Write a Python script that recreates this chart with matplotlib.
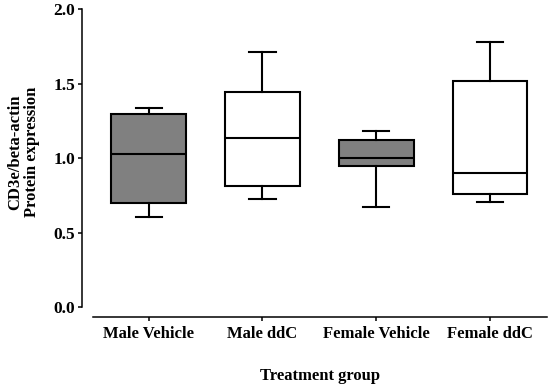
import matplotlib
matplotlib.use("Agg")
import matplotlib.pyplot as plt

plt.rcParams['font.family'] = ['Liberation Serif', 'DejaVu Serif']
plt.rcParams['font.weight'] = 'bold'

# Box statistics
groups = ["Male Vehicle", "Male ddC", "Female Vehicle", "Female ddC"]
whisker_low = [0.606, 0.727, 0.673, 0.705]
q1 = [0.700, 0.814, 0.949, 0.760]
medians = [1.030, 1.132, 1.002, 0.897]
q3 = [1.295, 1.443, 1.119, 1.517]
whisker_high = [1.333, 1.709, 1.181, 1.780]
fills = ["#808080", "white", "#808080", "white"]

yticks = [0.0, 0.5, 1.0, 1.5, 2.0]

stats = []
for i, name in enumerate(groups):
    stats.append({
        "label": name,
        "whislo": whisker_low[i],
        "q1": q1[i],
        "med": medians[i],
        "q3": q3[i],
        "whishi": whisker_high[i],
        "fliers": [],
    })

fig = plt.figure(figsize=(5.5, 3.87), dpi=100)
ax = fig.add_axes([0.169, 0.2067, 0.8255, 0.77])

lw = 1.5
bp = ax.bxp(stats, positions=range(len(groups)), widths=0.655, patch_artist=True,
            showfliers=False,
            boxprops=dict(linewidth=lw, edgecolor="black"),
            medianprops=dict(linewidth=lw, color="black"),
            whiskerprops=dict(linewidth=lw, color="black"),
            capprops=dict(linewidth=lw, color="black"),
            capwidths=0.23)
for patch, c in zip(bp["boxes"], fills):
    patch.set_facecolor(c)

ax.set_xlim(-0.49, 3.5)
ax.set_ylim(0, 2.0)

# Prism-like detached axes
ax.spines["top"].set_visible(False)
ax.spines["right"].set_visible(False)
ax.spines["left"].set_position(("outward", 8))
ax.spines["bottom"].set_position(("outward", 7))
ax.spines["left"].set_linewidth(1.1)
ax.spines["bottom"].set_linewidth(1.1)
ax.tick_params(axis="both", direction="out", length=3, width=1.1, pad=2)
ax.tick_params(axis="y", labelsize=12.5)
ax.tick_params(axis="x", labelsize=12, pad=4)

ax.set_yticks(yticks)
ax.set_yticklabels([f"{v:.1f}" for v in yticks])
ax.set_xticks(range(len(groups)))
ax.set_xticklabels(groups)

ax.set_xlabel("Treatment group", fontsize=12, fontweight="bold")
ax.xaxis.set_label_coords(0.5, -0.205)
ax.set_ylabel("CD3e/beta-actin\nProtein expression", fontsize=12, fontweight="bold",
              linespacing=1.05)
ax.yaxis.set_label_coords(-0.117, 0.52)

fig.savefig("out.png", dpi=100)
